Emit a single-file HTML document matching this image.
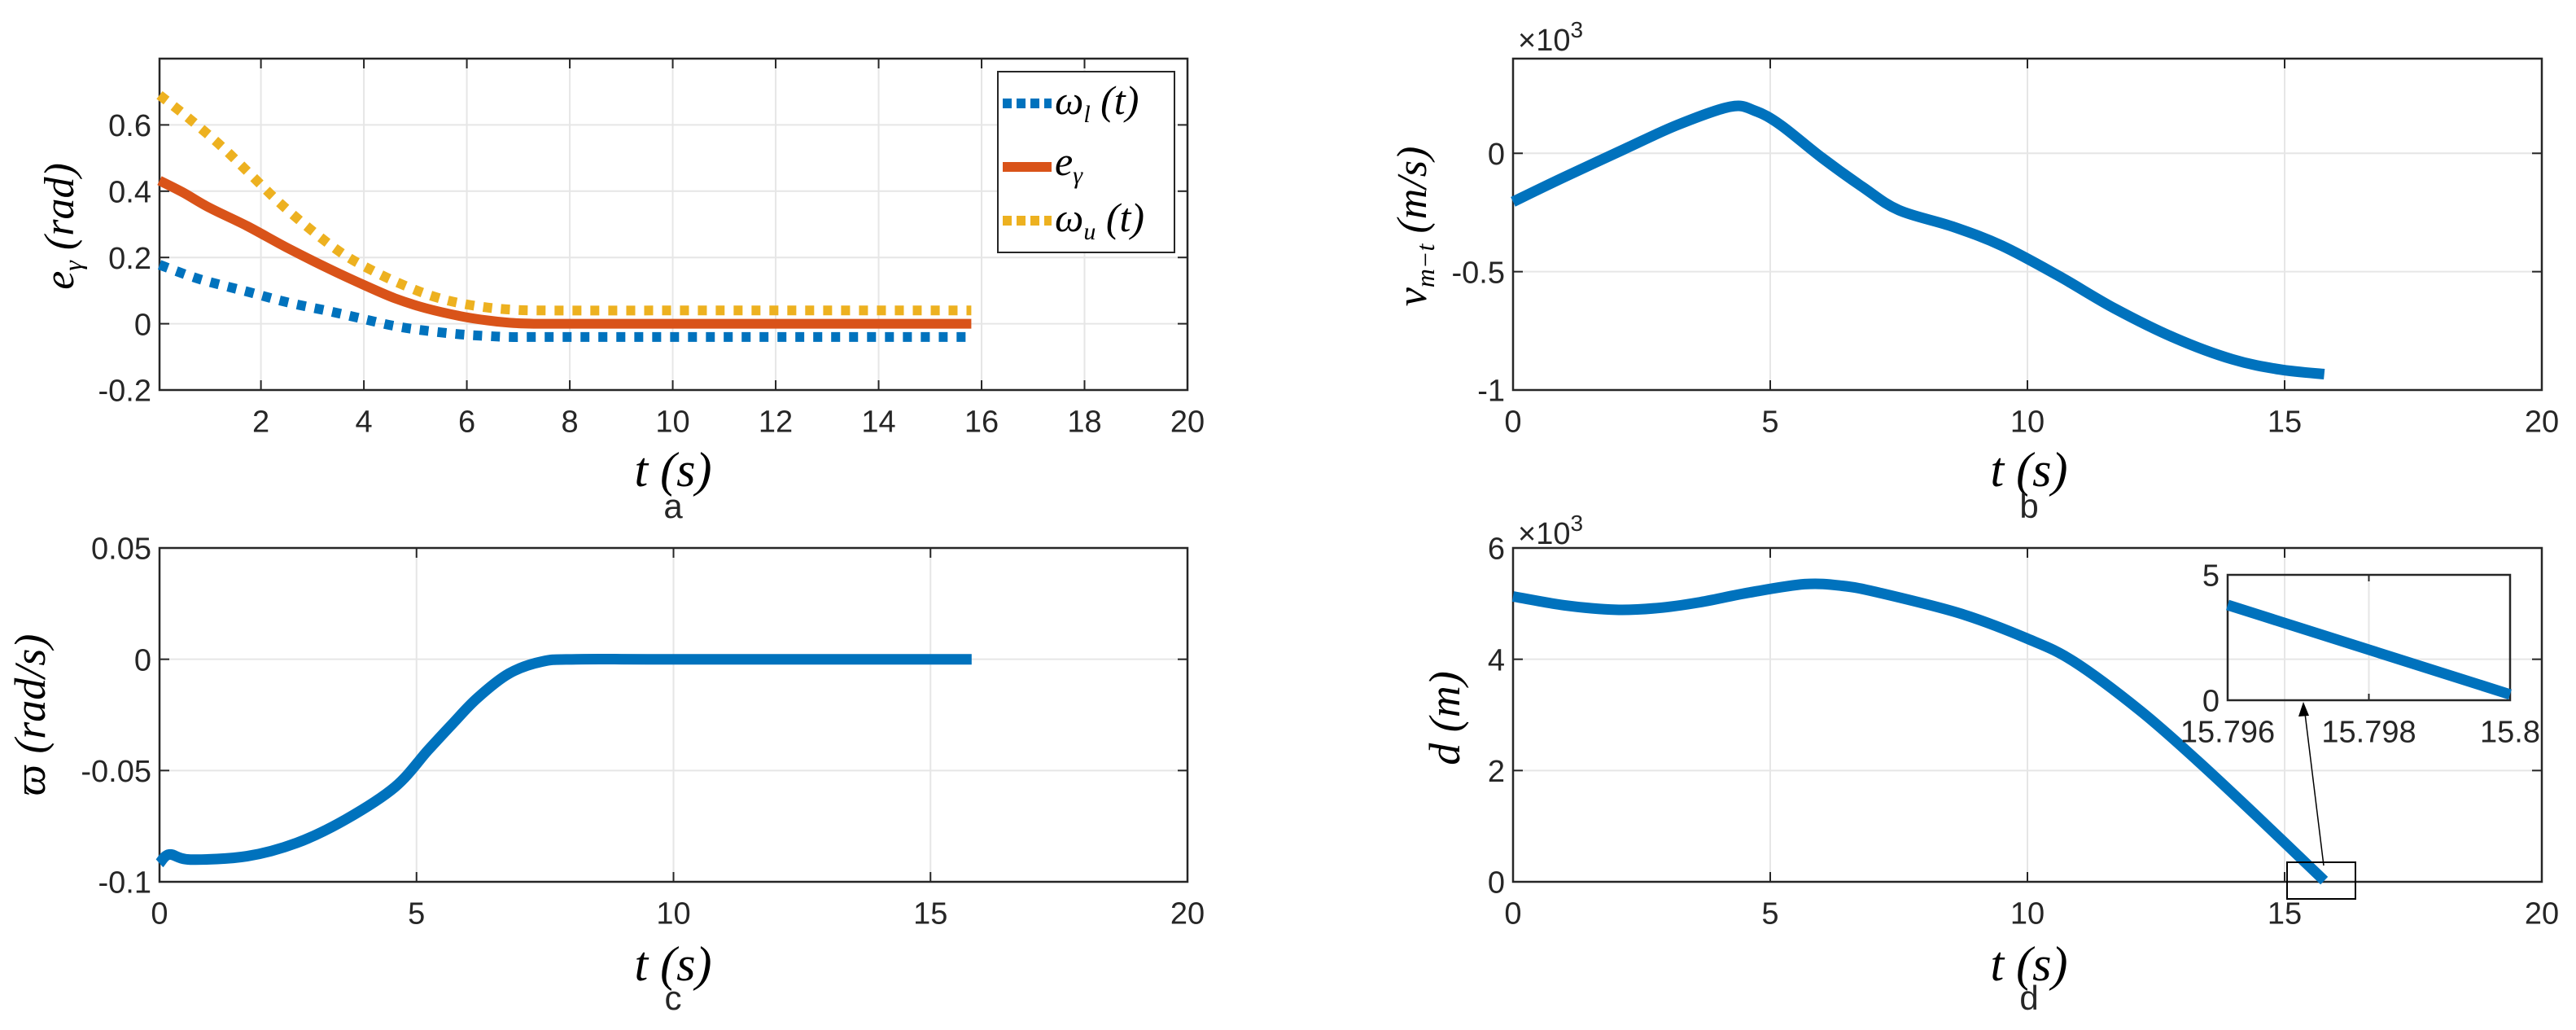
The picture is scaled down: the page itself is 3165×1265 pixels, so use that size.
<!DOCTYPE html>
<html><head><meta charset="utf-8"><style>
html,body{margin:0;padding:0;background:#fff;}
svg{display:block;}
text{font-family:"Liberation Sans",sans-serif;fill:#262626;}
.lab{font-family:"Liberation Serif",serif;font-style:italic;fill:#000;}
</style></head><body>
<svg id="fig" width="3165" height="1265" viewBox="0 0 3165 1265" xmlns="http://www.w3.org/2000/svg"></svg>
<script>
// Panel a data
const tA = [0.03,0.5,1,1.73,2.5,3.32,4,4.6,5.2,5.87,6.4,6.83,7.3,8,10,12,14,15.8];
const eGamma = [0.432,0.395,0.35,0.295,0.23,0.166,0.117,0.077,0.047,0.023,0.01,0.003,0,0,0,0,0,0];
const tU = [0.03,0.6,1.25,1.8,2.37,3,3.64,4.3,4.92,5.4,5.87,6.4,6.83,7.5,10,12,15.8];
const omegaU = [0.69,0.62,0.533,0.45,0.364,0.28,0.206,0.15,0.107,0.08,0.062,0.049,0.043,0.04,0.04,0.04,0.04];
const tL = [0.03,0.8,1.73,2.5,3.32,4,4.6,5.2,5.87,6.4,6.83,7.5,10,12,15.8];
const omegaL = [0.178,0.135,0.097,0.065,0.038,0.014,-0.007,-0.021,-0.032,-0.037,-0.04,-0.04,-0.04,-0.04,-0.04];
// Panel b data (x10^3)
const tB = [0,1,2.16,3.2,4.23,4.7,5.2,6.0,6.8,7.5,8.55,9.5,10.6,11.7,12.86,13.98,14.9,15.77];
const vB = [-0.205,-0.1,0.017,0.12,0.197,0.18,0.12,-0.018,-0.143,-0.24,-0.31,-0.39,-0.517,-0.656,-0.78,-0.87,-0.913,-0.933];
// Panel c data
const tC = [0,0.19,0.6,1.7,2.67,3.62,4.58,5.22,5.7,6.18,6.8,7.45,8.1,10,15.8];
const vC = [-0.0917,-0.0877,-0.09,-0.0885,-0.0825,-0.072,-0.0574,-0.041,-0.029,-0.0175,-0.0064,-0.001,0,0,0];
// Panel d data (x10^3)
const tD = [0,1,2.0,2.8,3.6,4.6,5.67,6.4,7.1,8.7,10,10.9,12.2,13.3,14.46,15.77];
const dD = [5.13,4.97,4.89,4.92,5.02,5.2,5.35,5.32,5.2,4.82,4.37,3.96,3.07,2.18,1.18,0.02];
// Inset data
const tIn = [15.796,15.8];
const dIn = [3.8,0.23];
// ticks
const ticksA_x = [2,4,6,8,10,12,14,16,18,20];
const ticksA_y = [-0.2,0,0.2,0.4,0.6];
const ticksB_y = [-1,-0.5,0];
const ticksC_y = [-0.1,-0.05,0,0.05];
const ticksD_y = [0,2,4,6];
const ticks5 = [0,5,10,15,20];
const ticksIn_x = [15.796,15.798,15.8];
const ticksIn_y = [0,5];

const NS='http://www.w3.org/2000/svg';
const svg=document.getElementById('fig');
function el(tag,attrs,parent){const e=document.createElementNS(NS,tag);for(const k in attrs)e.setAttribute(k,attrs[k]);(parent||svg).appendChild(e);return e;}
function fmt(v){return String(Math.round(v*1000)/1000);}

function axes(name,L,R,T,B,x0,x1,y0,y1,xt,yt,opts){
  const g=el('g',{});
  
  
  const sx=v=>L+(v-x0)/(x1-x0)*(R-L);
  const sy=v=>B-(v-y0)/(y1-y0)*(B-T);
  const fs=opts.fs||38, tl=opts.tl||12;
  xt.forEach(v=>{const x=sx(v);
    const gl=el('line',{x1:x,x2:x,y1:T,y2:B,stroke:'#e6e6e6','stroke-width':2},g);
    
    el('line',{x1:x,x2:x,y1:B,y2:B-tl,stroke:'#262626','stroke-width':2},g);
    el('line',{x1:x,x2:x,y1:T,y2:T+tl,stroke:'#262626','stroke-width':2},g);
    const t=el('text',{x:x,y:B+fs*1.35,'text-anchor':'middle','font-size':fs},g);
    
    t.textContent=fmt(v);});
  yt.forEach(v=>{const y=sy(v);
    const gl=el('line',{x1:L,x2:R,y1:y,y2:y,stroke:'#e6e6e6','stroke-width':2},g);
    
    el('line',{x1:L,x2:L+tl,y1:y,y2:y,stroke:'#262626','stroke-width':2},g);
    el('line',{x1:R,x2:R-tl,y1:y,y2:y,stroke:'#262626','stroke-width':2},g);
    const t=el('text',{x:L-10,y:y+fs*0.36,'text-anchor':'end','font-size':fs},g);
    
    t.textContent=fmt(v);});
  const box=el('rect',{x:L,y:T,width:R-L,height:B-T,fill:'none',stroke:'#262626','stroke-width':2.5},g);
  
  return {sx,sy,g};
}
function smoothPath(P){
  let d='M'+P[0][0].toFixed(1)+' '+P[0][1].toFixed(1);
  for(let i=0;i<P.length-1;i++){
    const p0=P[Math.max(0,i-1)],p1=P[i],p2=P[i+1],p3=P[Math.min(P.length-1,i+2)];
    const c1=[p1[0]+(p2[0]-p0[0])/6,p1[1]+(p2[1]-p0[1])/6];
    const c2=[p2[0]-(p3[0]-p1[0])/6,p2[1]-(p3[1]-p1[1])/6];
    d+=' C'+c1[0].toFixed(1)+' '+c1[1].toFixed(1)+' '+c2[0].toFixed(1)+' '+c2[1].toFixed(1)+' '+p2[0].toFixed(1)+' '+p2[1].toFixed(1);
  }
  return d;
}
function line(ax,xs,ys,color,w,dash,name){
  const P=xs.map((x,i)=>[ax.sx(x),ax.sy(ys[i])]);
  const a={d:smoothPath(P),fill:'none',stroke:color,'stroke-width':w,'stroke-linejoin':'round'};
  if(dash)a['stroke-dasharray']=dash;
  const p=el('path',a);
  
  
  return p;
}
function txt(x,y,s,attrs,name,rot){
  const a=Object.assign({x:x,y:y},attrs);
  if(rot)a.transform='rotate(-90 '+x+' '+y+')';
  const t=el('text',a);
  
  
  t.innerHTML=s;return t;
}
const BLUE='#0072bd',ORANGE='#d95319',YEL='#edb120';

// Panel a
const A=axes('panel-a-axes',196,1459,72,479,0.03,20,-0.2,0.8,ticksA_x,ticksA_y,{});
line(A,tU,omegaU,YEL,12,'11 11','omega-u-line');
line(A,tA,eGamma,ORANGE,12,null,'e-gamma-line');
line(A,tL,omegaL,BLUE,12,'11 11','omega-l-line');
// legend
const lg=el('g',{});


el('rect',{x:1226,y:88,width:217,height:222,fill:'#fff',stroke:'#262626','stroke-width':2},lg);
el('line',{x1:1232,x2:1292,y1:127,y2:127,stroke:BLUE,'stroke-width':12,'stroke-dasharray':'11 6'},lg);
el('line',{x1:1232,x2:1292,y1:205,y2:205,stroke:ORANGE,'stroke-width':12},lg);
el('line',{x1:1232,x2:1292,y1:271,y2:271,stroke:YEL,'stroke-width':12,'stroke-dasharray':'11 6'},lg);
txt(1296,140,'ω<tspan font-size="30" dy="10">l</tspan><tspan dy="-10"> (t)</tspan>',{class:'lab','font-size':50},'legend-omega-l');
txt(1296,215,'e<tspan font-size="30" dy="10">γ</tspan>',{class:'lab','font-size':50},'legend-e-gamma');
txt(1296,284,'ω<tspan font-size="30" dy="10">u</tspan><tspan dy="-10"> (t)</tspan>',{class:'lab','font-size':50},'legend-omega-u');
txt(827,597,'t (s)',{class:'lab','font-size':60,'text-anchor':'middle'},'x-axis-title-a');
txt(90,278,'e<tspan font-size="32" dy="10">γ</tspan><tspan dy="-10"> (rad)</tspan>',{class:'lab','font-size':52,'text-anchor':'middle'},'y-axis-title-a',true);
txt(827,636,'a',{'font-size':42,'text-anchor':'middle'},'panel-label-a');

// Panel b
const Bx=axes('panel-b-axes',1859,3123,72,479,0,20,-1,0.4,ticks5,ticksB_y,{});
line(Bx,tB,vB,BLUE,13,null,'velocity-line');
txt(1865,62,'×10<tspan font-size="28" dy="-16">3</tspan>',{'font-size':38},'exponent-label-b');
txt(2493,597,'t (s)',{class:'lab','font-size':60,'text-anchor':'middle'},'x-axis-title-b');
txt(1752,278,'v<tspan font-size="32" dy="10">m−t</tspan><tspan dy="-10"> (m/s)</tspan>',{class:'lab','font-size':52,'text-anchor':'middle'},'y-axis-title-b',true);
txt(2493,636,'b',{'font-size':42,'text-anchor':'middle'},'panel-label-b');

// Panel c
const C=axes('panel-c-axes',196,1459,673,1083,0,20,-0.1,0.05,ticks5,ticksC_y,{});
line(C,tC,vC,BLUE,13,null,'angular-rate-line');
txt(827,1204,'t (s)',{class:'lab','font-size':60,'text-anchor':'middle'},'x-axis-title-c');
txt(55,878,'ϖ (rad/s)',{class:'lab','font-size':54,'text-anchor':'middle'},'y-axis-title-c',true);
txt(827,1240,'c',{'font-size':42,'text-anchor':'middle'},'panel-label-c');

// Panel d
const D=axes('panel-d-axes',1859,3123,673,1083,0,20,0,6,ticks5,ticksD_y,{});
line(D,tD,dD,BLUE,13,null,'distance-line');
txt(1865,668,'×10<tspan font-size="28" dy="-16">3</tspan>',{'font-size':38},'exponent-label-d');
txt(2493,1204,'t (s)',{class:'lab','font-size':60,'text-anchor':'middle'},'x-axis-title-d');
txt(1793,882,'d (m)',{class:'lab','font-size':54,'text-anchor':'middle'},'y-axis-title-d',true);
txt(2493,1240,'d',{'font-size':42,'text-anchor':'middle'},'panel-label-d');
// zoom rectangle & arrow
const zr=el('rect',{x:2810,y:1059,width:84,height:45,fill:'none',stroke:'#000','stroke-width':2});


const ar=el('line',{x1:2855,y1:1063,x2:2831,y2:868,stroke:'#000','stroke-width':1.5});


const ah=el('path',{d:'M2830 862 L2824 880 L2837 879 Z',fill:'#000'});


// inset
const I=axes('inset-axes',2737,3084,706,860,15.796,15.8,0,5,ticksIn_x,ticksIn_y,{fs:38,tl:8});
line(I,tIn,dIn,BLUE,13,null,'inset-distance-line');
</script>
</body></html>
